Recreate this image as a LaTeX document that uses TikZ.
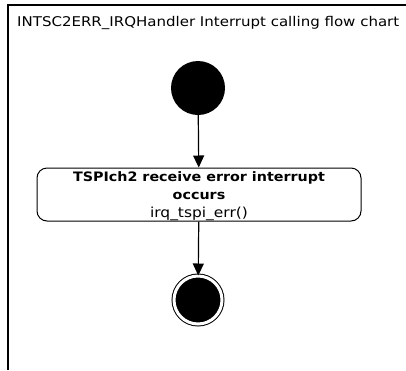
\documentclass[tikz,border=0pt]{standalone}
\usepackage{fontspec}
\setmainfont{DejaVu Sans}
\newfontfamily\widefont[FakeStretch=1.12]{DejaVu Sans}
\newfontfamily\widebold[FakeStretch=1.1]{DejaVu Sans Bold}
\usetikzlibrary{arrows.meta}
\begin{document}
\begin{tikzpicture}[x=1pt,y=-1pt,
  frameline/.style={line width=1.5pt,black},
  startnode/.style={circle,fill=black,minimum size=54pt,inner sep=0pt},
  endnode/.style={circle,draw=black,line width=1pt,fill=black,double=white,double distance=3pt,minimum size=48pt,inner sep=0pt},
  actbox/.style={draw=black,line width=1pt,rounded corners=10pt,minimum width=324pt,minimum height=53pt,inner sep=0pt},
  acttext/.style={align=center,inner sep=0pt,font=\widefont\fontsize{13.8}{18.5}\selectfont},
  flow/.style={line width=1.2pt,-{Triangle[length=12pt,width=11pt]}}]
\useasboundingbox (0,0) rectangle (406,370);
\draw[frameline] (8,370) -- (8,5) -- (406,5);
\node[anchor=base west,font=\widefont\fontsize{13.4}{16}\selectfont,inner sep=0pt] (title) at (17,26.5) {INTSC2ERR\_IRQHandler Interrupt calling flow chart};
\node[startnode] (start) at (198,88) {};
\node[actbox] (act) at (199,194.5) {};
\node[acttext] (acttxt) at (199,196) {{\widebold\fontsize{13}{19}\selectfont TSPIch2 receive error interrupt}\\{\widebold\fontsize{13}{19}\selectfont occurs}\\[-1pt]irq\_tspi\_err()};
\node[endnode] (end) at (198,300) {};
\draw[flow] (start) -- (act);
\draw[flow] (act) -- (end);
\end{tikzpicture}
\end{document}
